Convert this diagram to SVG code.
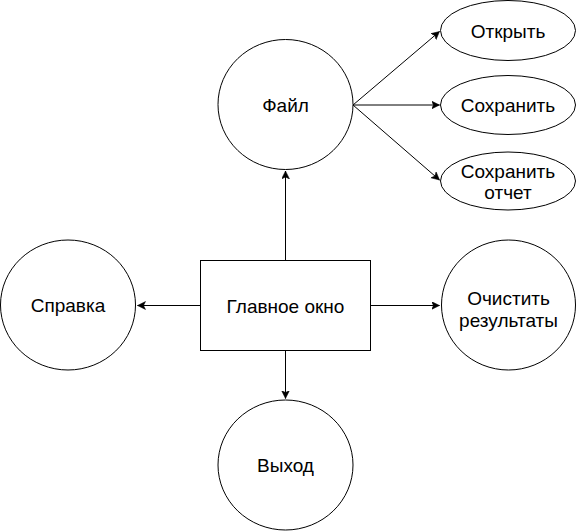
<svg xmlns="http://www.w3.org/2000/svg" width="576" height="531" viewBox="0 0 576 531">
<style>
.n{fill:#fff;stroke:#000;stroke-width:1}
.t{font-family:"Liberation Sans",Arial,sans-serif;font-size:19px;fill:#000;text-anchor:middle}
.e{fill:none;stroke:#000;stroke-width:1;marker-end:url(#a)}
</style>
<defs>
<marker id="a" markerUnits="userSpaceOnUse" markerWidth="10" markerHeight="10" refX="8" refY="4" orient="auto">
<path d="M0,0 L8,4 L0,8 L2,4 z" fill="#000" stroke="#000" stroke-width="0.5"/>
</marker>
</defs>
<rect width="576" height="531" fill="#fff"/>
<g id="connectors">
<path class="e" d="M285.5,260.5 V171"/>
<path class="e" d="M285.5,350.5 V398.5"/>
<path class="e" d="M200.5,305.5 H137.5"/>
<path class="e" d="M370.5,305.5 H439.5"/>
<path class="e" d="M353,105 L439.5,31.5"/>
<path class="e" d="M353,105 H439.5"/>
<path class="e" d="M353,105 L439.5,180"/>
</g>
<g id="main">
<rect class="n" x="200.5" y="260.5" width="170" height="90"/>
<text class="t" x="285.5" y="312.5">Главное окно</text>
</g>
<g id="file">
<ellipse class="n" cx="285.5" cy="104.5" rx="67.5" ry="65"/>
<text class="t" x="285.5" y="111.5">Файл</text>
</g>
<g id="exit">
<ellipse class="n" cx="285.5" cy="465" rx="67.5" ry="65"/>
<text class="t" x="285.5" y="472">Выход</text>
</g>
<g id="help">
<ellipse class="n" cx="68" cy="305" rx="67.5" ry="65"/>
<text class="t" x="68" y="312">Справка</text>
</g>
<g id="clear">
<ellipse class="n" cx="508.5" cy="305" rx="67" ry="65"/>
<text class="t" x="508.5" y="305">Очистить</text>
<text class="t" x="508.5" y="327">результаты</text>
</g>
<g id="open">
<ellipse class="n" cx="508" cy="30.5" rx="67.5" ry="30"/>
<text class="t" x="508" y="37.5">Открыть</text>
</g>
<g id="save">
<ellipse class="n" cx="508" cy="105" rx="67.5" ry="29.5"/>
<text class="t" x="508" y="112">Сохранить</text>
</g>
<g id="savereport">
<ellipse class="n" cx="508" cy="181" rx="67.5" ry="29"/>
<text class="t" x="508" y="177.5">Сохранить</text>
<text class="t" x="508" y="199">отчет</text>
</g>
</svg>
